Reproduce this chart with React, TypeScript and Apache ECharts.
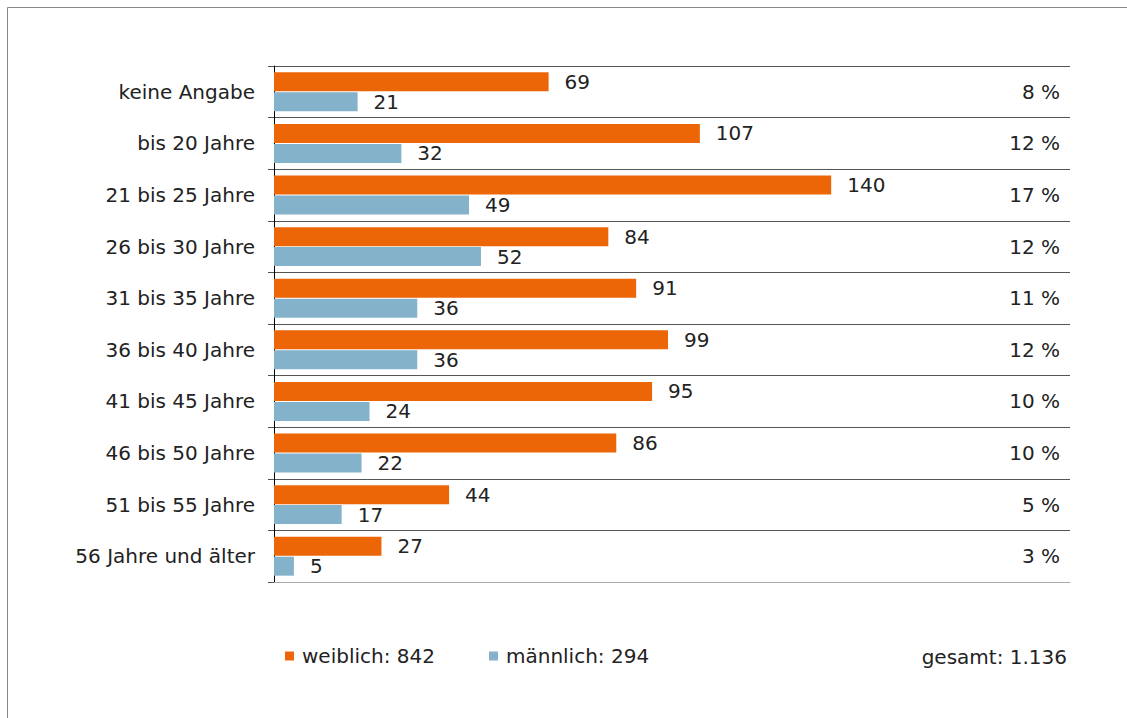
import React, { useEffect, useRef } from "react";
import * as echarts from "echarts";

const categories = [
  "keine Angabe",
  "bis 20 Jahre",
  "21 bis 25 Jahre",
  "26 bis 30 Jahre",
  "31 bis 35 Jahre",
  "36 bis 40 Jahre",
  "41 bis 45 Jahre",
  "46 bis 50 Jahre",
  "51 bis 55 Jahre",
  "56 Jahre und älter",
];
const weiblich = [69, 107, 140, 84, 91, 99, 95, 86, 44, 27];
const maennlich = [21, 32, 49, 52, 36, 36, 24, 22, 17, 5];
const percentLabels = ["8 %", "12 %", "17 %", "12 %", "11 %", "12 %", "10 %", "10 %", "5 %", "3 %"];

const ORANGE = "#EC6608";
const BLUE = "#85B2CB";
const FONT = "DejaVu Sans";
const FS = 20;
const TEXT = "#222222";

const sum = (a: number[]) => a.reduce((s, v) => s + v, 0);
const fmtDe = (n: number) => n.toLocaleString("de-DE");

export default function App() {
  const ref = useRef<HTMLDivElement>(null);
  useEffect(() => {
    if (!ref.current) return;
    const chart = echarts.init(ref.current, undefined, { renderer: "svg" });
    const totalW = sum(weiblich);
    const totalM = sum(maennlich);
    chart.setOption({
      animation: false,
      backgroundColor: "#ffffff",
      textStyle: { fontFamily: FONT },
      grid: { left: 274, top: 66, width: 796, height: 516, containLabel: false },
      xAxis: {
        type: "value",
        min: 0,
        max: 200,
        axisLine: { show: true, lineStyle: { color: "#aaaaaa", width: 1 } },
        axisTick: { show: false },
        axisLabel: { show: false },
        splitLine: { show: false },
      },
      yAxis: [
        {
          type: "category",
          data: categories,
          inverse: true,
          axisLine: { show: true, lineStyle: { color: "#000000", width: 1 } },
          axisTick: { show: true, length: 6, lineStyle: { color: "#555555" } },
          axisLabel: { margin: 19, fontSize: FS, color: TEXT, fontFamily: FONT },
          splitLine: { show: true, lineStyle: { color: "#555555", width: 1 } },
        },
        {
          type: "category",
          data: categories,
          inverse: true,
          position: "right",
          axisLine: { show: false },
          axisTick: { show: false },
          splitLine: { show: false },
          axisLabel: {
            inside: true,
            margin: 10,
            fontSize: FS,
            color: TEXT,
            fontFamily: FONT,
            formatter: (_v: string, i: number) => percentLabels[i],
          },
        },
      ],
      legend: {
        left: 285,
        top: 646,
        padding: 0,
        icon: "rect",
        itemWidth: 9,
        itemHeight: 9,
        itemGap: 54,
        textStyle: { fontSize: FS, color: TEXT, fontFamily: FONT, padding: [0, 0, 0, 3] },
        data: ["weiblich", "männlich"],
        formatter: (name: string) =>
          name === "weiblich" ? `weiblich: ${fmtDe(totalW)}` : `männlich: ${fmtDe(totalM)}`,
      },
      graphic: [
        {
          type: "rect",
          shape: { x: 7.5, y: 7.5, width: 1300, height: 900 },
          style: { fill: "none", stroke: "#888888", lineWidth: 1 },
          silent: true,
        },
        {
          type: "text",
          right: 60,
          top: 647,
          style: {
            text: `gesamt: ${fmtDe(totalW + totalM)}`,
            font: `${FS}px "${FONT}"`,
            fill: TEXT,
          },
        },
      ],
      series: [
        {
          name: "weiblich",
          type: "bar",
          data: weiblich,
          barWidth: 19,
          barGap: "5%",
          itemStyle: { color: ORANGE },
          label: { show: true, position: "right", distance: 16, fontSize: FS, color: TEXT, fontFamily: FONT },
        },
        {
          name: "männlich",
          type: "bar",
          data: maennlich,
          barWidth: 19,
          itemStyle: { color: BLUE },
          label: { show: true, position: "right", distance: 16, fontSize: FS, color: TEXT, fontFamily: FONT },
        },
      ],
    });
    return () => chart.dispose();
  }, []);
  return (
    <div
      ref={ref}
      style={{ position: "fixed", left: 0, top: 0, width: 1127, height: 718 }}
    />
  );
}
